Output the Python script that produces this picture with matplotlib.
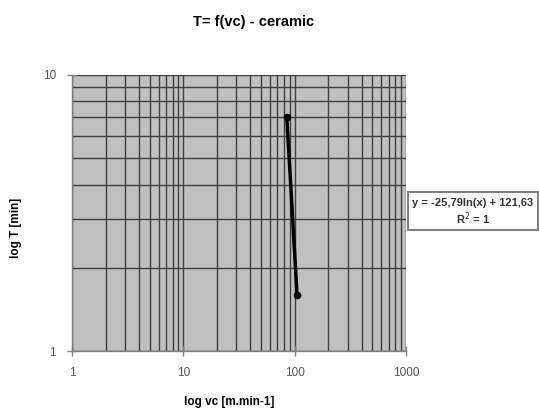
import matplotlib
matplotlib.use("Agg")
import matplotlib.pyplot as plt
from matplotlib.ticker import LogLocator, FixedLocator, FixedFormatter, NullFormatter
from matplotlib.patches import Rectangle

# Data
vc = [85, 105]          # cutting speed [m/min]
T = [7.0, 1.6]          # tool life [min]
x_ticks = [1, 10, 100, 1000]
x_tick_labels = ["1", "10", "100", "1000"]
y_ticks = [1, 10]
y_tick_labels = ["1", "10"]
title = "T= f(vc) - ceramic"
xlabel = "log vc [m.min-1]"
ylabel = "log T [min]"
eq_line1 = "y = -25,79ln(x) + 121,63"
eq_line2 = "R$^2$ = 1"

plt.rcParams['font.family'] = ['Liberation Sans', 'DejaVu Sans']

W, H = 539, 409
fig = plt.figure(figsize=(W/100, H/100), dpi=100)
ax = fig.add_axes([72/W, 1-351/H, (406-72)/W, (351-74.7)/H])
ax.set_facecolor('#C0C0C0')

ax.set_xscale('log')
ax.set_yscale('log')
ax.set_xlim(1, 1000)
ax.set_ylim(1, 10)

ax.xaxis.set_major_locator(FixedLocator(x_ticks))
ax.xaxis.set_major_formatter(FixedFormatter(x_tick_labels))
ax.yaxis.set_major_locator(FixedLocator(y_ticks))
ax.yaxis.set_major_formatter(FixedFormatter(y_tick_labels))
ax.xaxis.set_minor_locator(LogLocator(base=10, subs=range(2, 10)))
ax.yaxis.set_minor_locator(LogLocator(base=10, subs=range(2, 10)))
ax.xaxis.set_minor_formatter(NullFormatter())
ax.yaxis.set_minor_formatter(NullFormatter())

ax.grid(True, which='both', color='#404040', linewidth=1.0)
ax.set_axisbelow(True)

for s in ['top', 'right']:
    ax.spines[s].set_visible(False)
for s in ['left', 'bottom']:
    ax.spines[s].set_color('#808080')
    ax.spines[s].set_linewidth(1.0)

ax.tick_params(which='major', direction='inout', length=7, width=1, color='#808080',
               labelsize=8.5, labelcolor='#555555', pad=8)
ax.tick_params(which='minor', length=0)

ax.plot(vc, T, color='black', linewidth=2.5, marker='o', markersize=4.5, zorder=5)

fig.text(253.7/W, 1-22/H, title, ha='center', va='center', fontsize=10.5, fontweight='bold')
fig.text(229/W, 1-401.5/H, xlabel, ha='center', va='center', fontsize=8.5, fontweight='bold')
fig.text(16/W, 1-228/H, ylabel, ha='center', va='center', fontsize=8.5, fontweight='bold', rotation=90)

# Trendline label box
fig.patches.append(Rectangle((408/W, 1-230/H), (538-408)/W, (230-192)/H,
                             transform=fig.transFigure, facecolor='white',
                             edgecolor='#808080', linewidth=1.5))
fig.text(473/W, 1-203.5/H, eq_line1, ha='center', va='center', fontsize=8,
         fontweight='bold', color='#333333')
fig.text(473/W, 1-218.5/H, eq_line2, ha='center', va='center', fontsize=8,
         fontweight='bold', color='#333333')

fig.savefig('out.png', dpi=100)
